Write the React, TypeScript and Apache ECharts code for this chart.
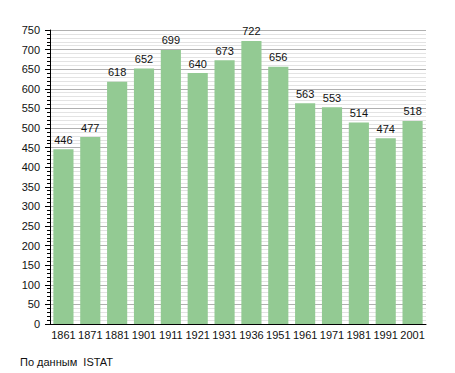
import React, { useEffect, useRef } from "react";
import * as echarts from "echarts";

const categories = ["1861", "1871", "1881", "1901", "1911", "1921", "1931", "1936", "1951", "1961", "1971", "1981", "1991", "2001"];
const population = [446, 477, 618, 652, 699, 640, 673, 722, 656, 563, 553, 514, 474, 518];
const footer = "По данным  ISTAT";

export default function App() {
  const ref = useRef<HTMLDivElement>(null);
  useEffect(() => {
    const chart = echarts.init(ref.current!, null, { renderer: "svg" });
    chart.setOption({
      animation: false,
      textStyle: { fontFamily: "Liberation Sans, Arial, sans-serif" },
      grid: { left: 50, right: 29, top: 30, bottom: 49, containLabel: false },
      xAxis: {
        type: "category",
        data: categories,
        axisLine: { lineStyle: { color: "#000", width: 1 } },
        axisTick: { show: false },
        axisLabel: { color: "#111", fontSize: 11, margin: 5, interval: 0 },
      },
      yAxis: {
        type: "value",
        min: 0,
        max: 750,
        interval: 50,
        axisLine: { show: true, lineStyle: { color: "#000", width: 1 } },
        axisTick: { show: true, length: 5, lineStyle: { color: "#000" } },
        minorTick: { show: true, splitNumber: 5, length: 3, lineStyle: { color: "#000" } },
        axisLabel: { color: "#111", fontSize: 11, margin: 10 },
        splitLine: { show: true, lineStyle: { color: "#b0b0b0", width: 1 } },
        minorSplitLine: { show: true, lineStyle: { color: "#e3e3e3", width: 1 } },
      },
      series: [
        {
          type: "bar",
          data: population,
          barCategoryGap: "25%",
          itemStyle: { color: "#93ca93" },
          label: { show: true, position: "top", color: "#111", fontSize: 11, distance: 4 },
        },
      ],
      graphic: [
        {
          type: "text",
          left: 20,
          top: 356,
          style: { text: footer, fontSize: 11, fill: "#111", fontFamily: "Liberation Sans, Arial, sans-serif" },
        },
      ],
    });
    return () => chart.dispose();
  }, []);
  return <div ref={ref} style={{ width: 455, height: 373, position: "absolute", left: 0, top: 0 }} />;
}
